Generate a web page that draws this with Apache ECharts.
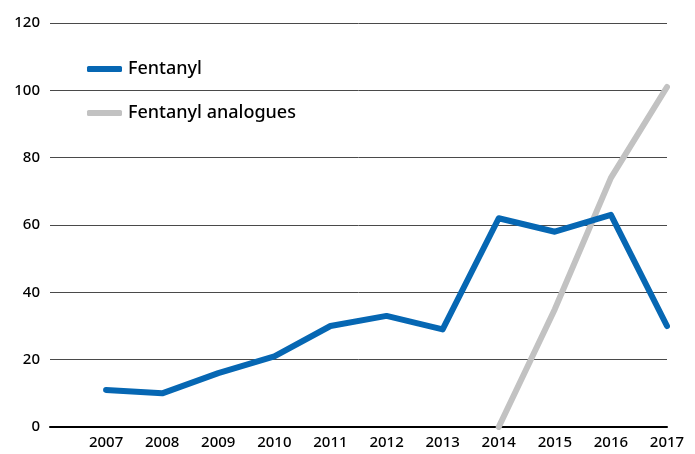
<!DOCTYPE html>
<html>
<head>
<meta charset="utf-8">
<script src="https://cdn.jsdelivr.net/npm/echarts@6/dist/echarts.min.js"></script>
<style>html,body{margin:0;padding:0;background:#fff;}#chart{width:695px;height:454px;}</style>
</head>
<body>
<div id="chart"></div>
<script>
const years = [2007, 2008, 2009, 2010, 2011, 2012, 2013, 2014, 2015, 2016, 2017];
const fentanyl = [11, 10, 16, 21, 30, 33, 29, 62, 58, 63, 30];
const analogueYears = [2014, 2015, 2016, 2017];
const analogues = [0, 35, 74, 101];
const yTicks = [0, 20, 40, 60, 80, 100, 120];

const chart = echarts.init(document.getElementById('chart'));
const font = '"Noto Sans", "Open Sans", sans-serif';
chart.setOption({
  animation: false,
  grid: { left: 50, right: 28, top: 23, bottom: 27 },
  legend: {
    orient: 'vertical',
    left: 87,
    top: 59,
    padding: 0,
    itemWidth: 35,
    itemHeight: 6,
    itemGap: 24,
    icon: 'roundRect',
    textStyle: { fontFamily: font, fontSize: 18, fontWeight: 500, color: '#000', lineHeight: 20, padding: [0, 0, 0, 1] },
    data: ['Fentanyl', 'Fentanyl analogues']
  },
  xAxis: {
    type: 'value',
    min: 2006,
    max: 2017,
    interval: 1,
    splitLine: { show: false },
    axisTick: { show: false },
    axisLine: { show: true, onZero: false, lineStyle: { color: '#000', width: 2 } },
    axisLabel: {
      margin: 8,
      fontFamily: font, fontSize: 15, fontWeight: 500, color: '#000',
      formatter: v => (years.indexOf(v) >= 0 ? String(v) : '')
    }
  },
  yAxis: {
    type: 'value',
    min: yTicks[0],
    max: yTicks[yTicks.length - 1],
    interval: 20,
    axisLine: { show: false },
    axisTick: { show: false },
    splitLine: { lineStyle: { color: '#4a4a4a', width: 1 } },
    axisLabel: { margin: 10, fontFamily: font, fontSize: 15, fontWeight: 500, color: '#000' }
  },
  series: [
    {
      name: 'Fentanyl',
      type: 'line',
      data: years.map((y, i) => [y, fentanyl[i]]),
      showSymbol: false,
      symbol: 'none',
      itemStyle: { color: '#0667b3' },
      lineStyle: { color: '#0667b3', width: 6, cap: 'round', join: 'round' },
      z: 3
    },
    {
      name: 'Fentanyl analogues',
      type: 'line',
      data: analogueYears.map((y, i) => [y, analogues[i]]),
      showSymbol: false,
      symbol: 'none',
      itemStyle: { color: '#c2c2c2' },
      lineStyle: { color: '#c2c2c2', width: 6, cap: 'round', join: 'round' },
      z: 2
    }
  ]
});
</script>
</body>
</html>
